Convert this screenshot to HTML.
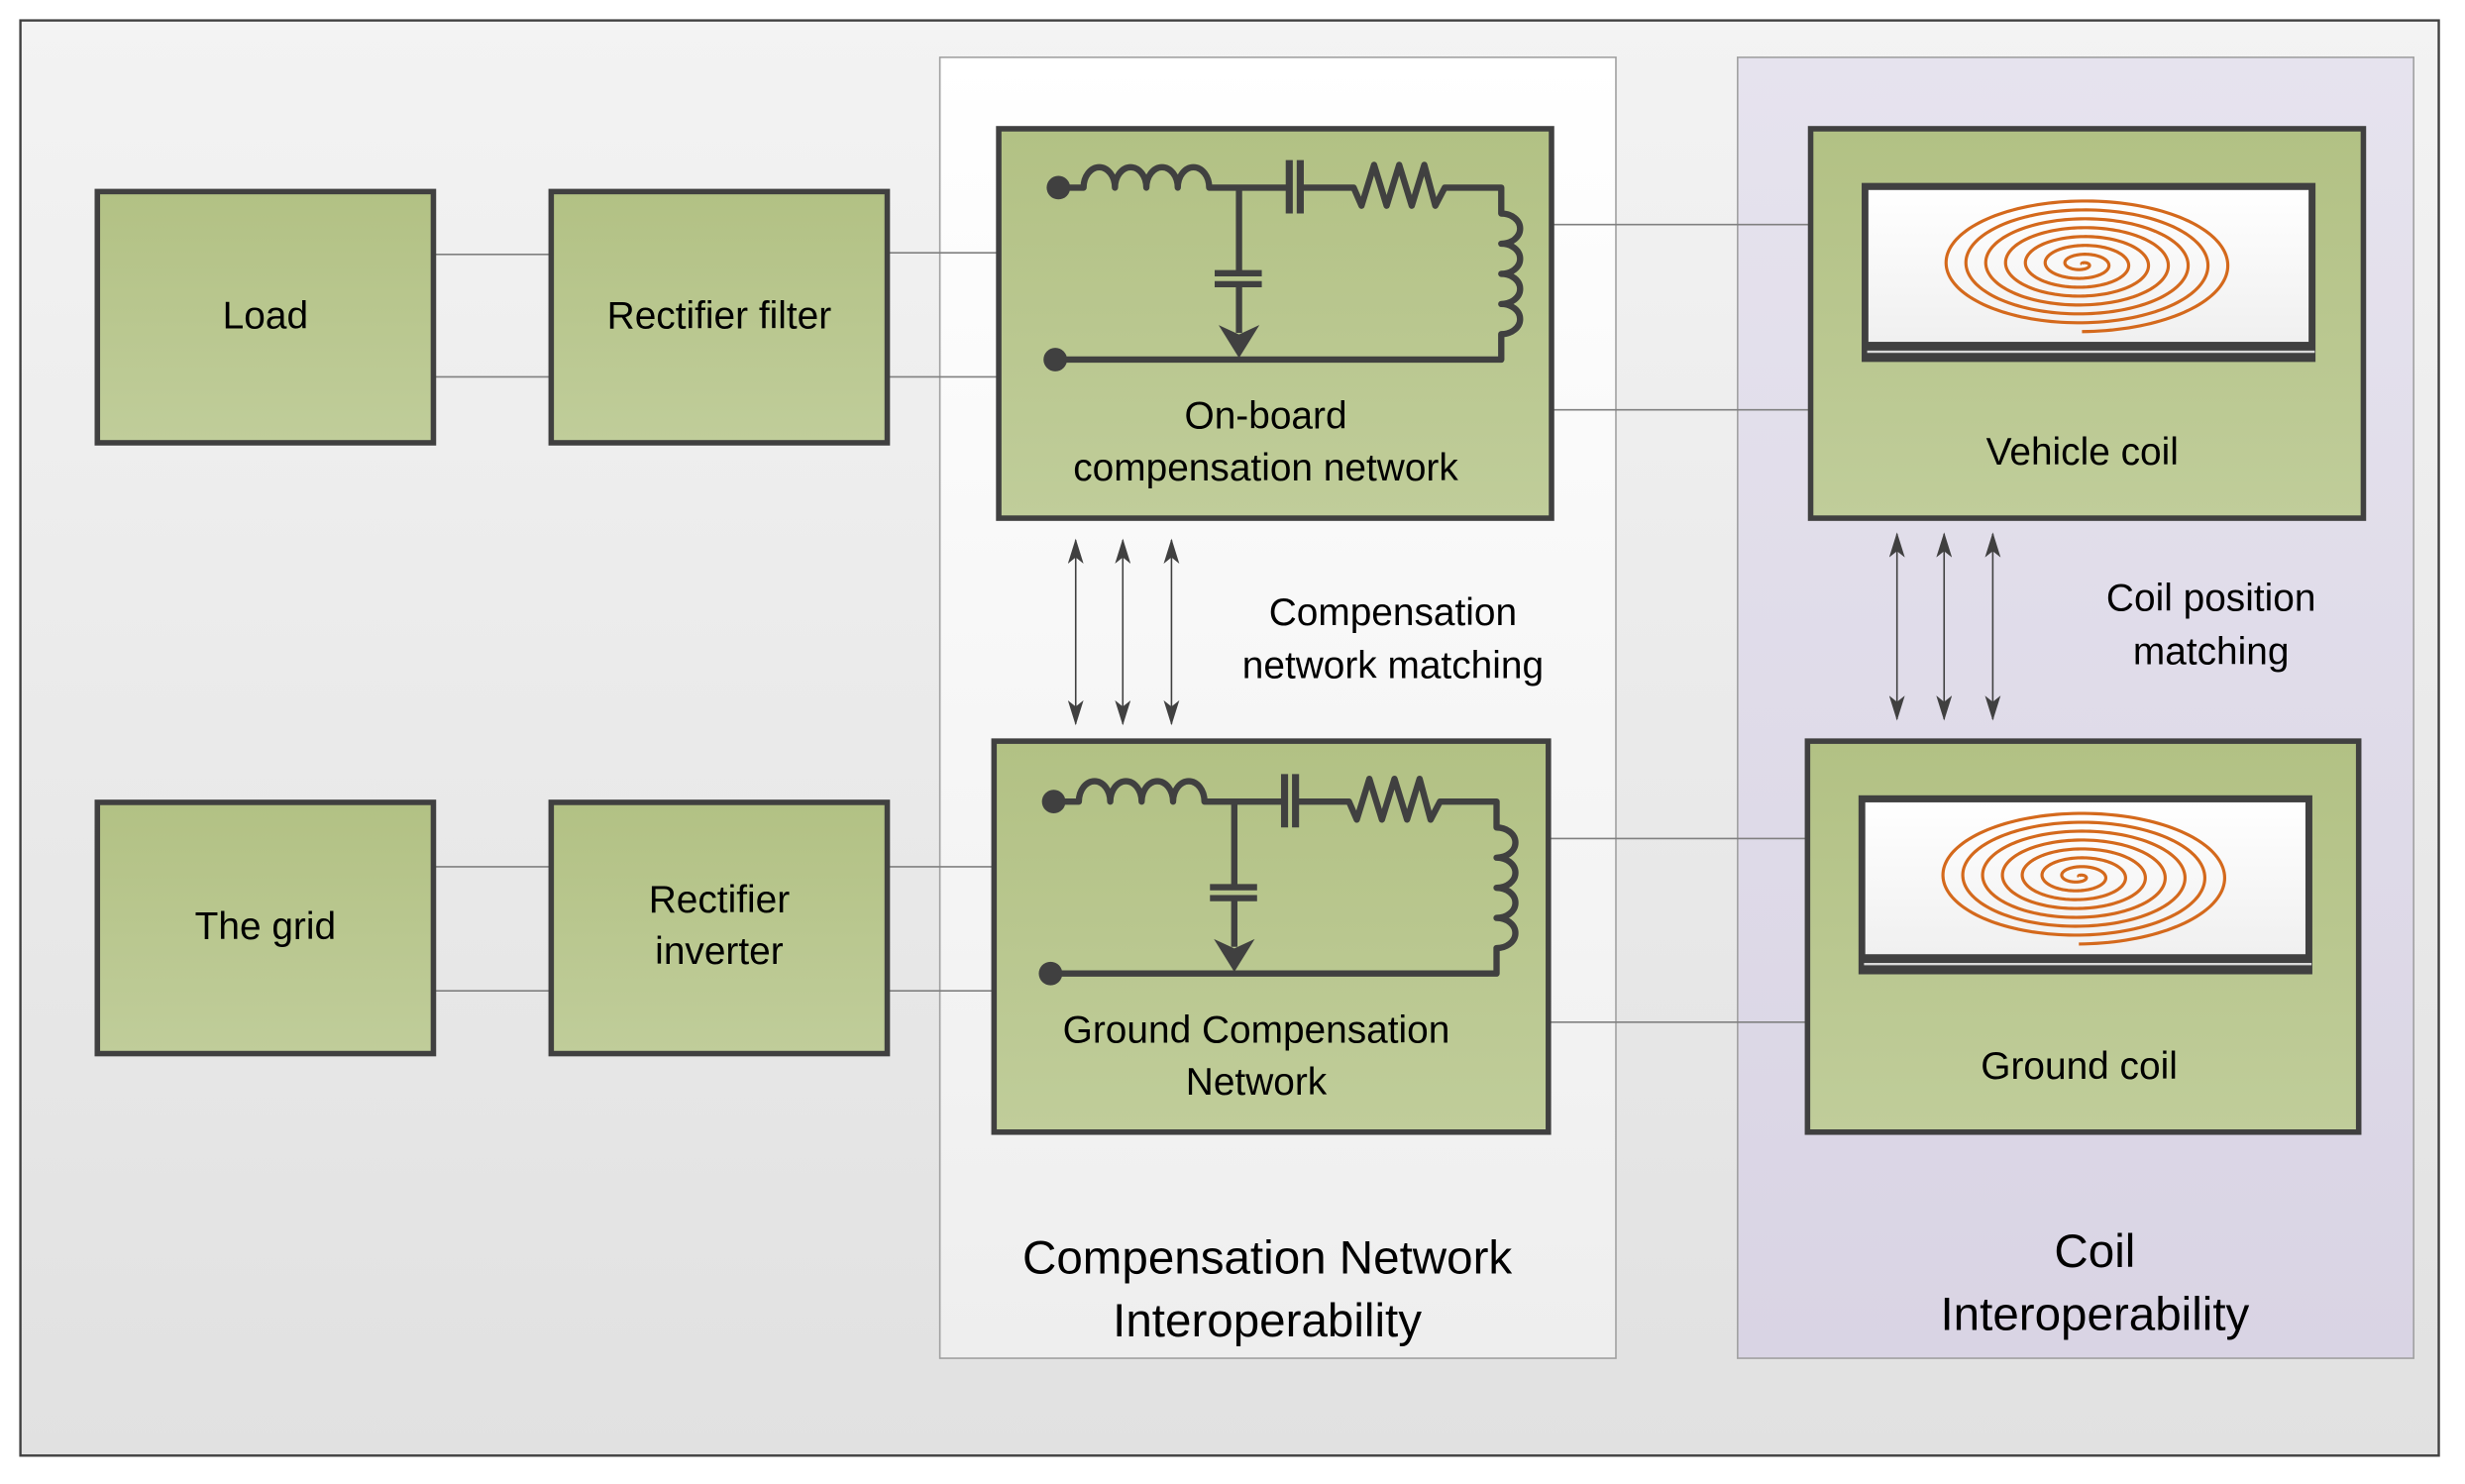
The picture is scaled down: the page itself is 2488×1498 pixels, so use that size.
<!DOCTYPE html>
<html><head><meta charset="utf-8"><style>html,body{margin:0;padding:0;background:#fff}svg{display:block}text{font-family:"Liberation Sans",sans-serif;fill:#000}</style></head>
<body>
<svg width="2488" height="1498" viewBox="0 0 1569.7 945.1" preserveAspectRatio="none" xmlns="http://www.w3.org/2000/svg">
<defs>
<linearGradient id="bg" x1="0" y1="0" x2="0" y2="1"><stop offset="0" stop-color="#f3f3f3"/><stop offset="1" stop-color="#e1e1e1"/></linearGradient>
<linearGradient id="wp" x1="0" y1="0" x2="0" y2="1"><stop offset="0" stop-color="#ffffff"/><stop offset="1" stop-color="#eeeeee"/></linearGradient>
<linearGradient id="pp" x1="0" y1="0" x2="0" y2="1"><stop offset="0" stop-color="#e6e3ee"/><stop offset="1" stop-color="#d9d4e4"/></linearGradient>
<linearGradient id="gr" x1="0" y1="0" x2="0" y2="1"><stop offset="0" stop-color="#b2c184"/><stop offset="1" stop-color="#c0cd9a"/></linearGradient>
<linearGradient id="wh" x1="0" y1="0" x2="0" y2="1"><stop offset="0" stop-color="#ffffff"/><stop offset="1" stop-color="#f0f0f0"/></linearGradient>
<marker id="ah" viewBox="0 0 16 10" refX="15" refY="5" markerWidth="16" markerHeight="10" markerUnits="userSpaceOnUse" orient="auto-start-reverse"><path d="M0,0 L16,5 L0,10 L4,5 Z" fill="#404040"/></marker>
<g id="circ" fill="none" stroke="#404040" stroke-width="4" stroke-linejoin="round">
<circle cx="674" cy="119.5" r="7.5" fill="#404040" stroke="none"/>
<circle cx="672" cy="229" r="7.5" fill="#404040" stroke="none"/>
<path d="M674,119.5 H690 a10,13 0 0 1 20,0 a10,13 0 0 1 20,0 a10,13 0 0 1 20,0 a10,13 0 0 1 20,0 H821"/>
<path d="M821,102 V136 M828,102 V136" stroke-width="4.5"/>
<path d="M828,119.5 H862 L867,131 L875,105 L883,131 L891,105 L899,131 L907,105 L914,131 L920,119.5 H956 V136 a12,9.6 0 0 1 0,19.2 a12,9.6 0 0 1 0,19.2 a12,9.6 0 0 1 0,19.2 a12,9.6 0 0 1 0,19.2 V229 H672"/>
<path d="M789,119.5 V173 M773.5,174 H803.5 M773.5,181 H803.5 M789,181 V212"/>
<path d="M776,207 L789,228 L802,207 L789,213 Z" fill="#404040" stroke="none"/>
</g>
<g id="coil">
<rect x="1185.5" y="116.5" width="289" height="114" fill="#404040"/>
<rect x="1189.8" y="121" width="280.3" height="96.7" fill="url(#wh)"/>
<line x1="1189" y1="224" x2="1474" y2="224" stroke="#d8d8d8" stroke-width="1.5"/>
<path class="sp" fill="none" stroke="#d4691c" stroke-width="2"/>
</g>
</defs>
<rect x="13" y="13" width="1540" height="914" fill="url(#bg)" stroke="#404040" stroke-width="1.5"/>
<rect x="598.5" y="36.5" width="430.5" height="828.5" fill="url(#wp)" stroke="#a0a0a0" stroke-width="1"/>
<rect x="1106.5" y="36.5" width="430.5" height="828.5" fill="url(#pp)" stroke="#a0a0a0" stroke-width="1"/>
<g stroke="#808080" stroke-width="1">
<line x1="276" y1="162" x2="351" y2="162"/><line x1="276" y1="240" x2="351" y2="240"/>
<line x1="565" y1="161" x2="636" y2="161"/><line x1="565" y1="240" x2="636" y2="240"/>
<line x1="276" y1="552" x2="351" y2="552"/><line x1="276" y1="631" x2="351" y2="631"/>
<line x1="565" y1="552" x2="633" y2="552"/><line x1="565" y1="631" x2="633" y2="631"/>
<line x1="988" y1="143" x2="1153" y2="143"/><line x1="988" y1="261" x2="1153" y2="261"/>
<line x1="986" y1="534" x2="1151" y2="534"/><line x1="986" y1="651" x2="1151" y2="651"/>
</g>
<g fill="url(#gr)" stroke="#404040" stroke-width="3.5">
<rect x="62" y="122" width="214" height="160"/><rect x="351" y="122" width="214" height="160"/>
<rect x="62" y="511" width="214" height="160"/><rect x="351" y="511" width="214" height="160"/>
<rect x="636" y="82" width="352" height="248"/><rect x="633" y="472" width="353" height="249"/>
<rect x="1153" y="82" width="352" height="248"/><rect x="1151" y="472" width="351" height="249"/>
</g>
<use href="#circ"/>
<use href="#circ" transform="translate(-3,391)"/>
<use href="#coil"/>
<use href="#coil" transform="translate(-2,390)"/>
<g stroke="#404040" stroke-width="1" marker-start="url(#ah)" marker-end="url(#ah)">
<line x1="685" y1="344" x2="685" y2="461"/><line x1="715" y1="344" x2="715" y2="461"/><line x1="746" y1="344" x2="746" y2="461"/>
<line x1="1208" y1="340" x2="1208" y2="458"/><line x1="1238" y1="340" x2="1238" y2="458"/><line x1="1269" y1="340" x2="1269" y2="458"/>
</g>
<g font-size="24.5" text-anchor="middle">
<text x="169" y="209">Load</text>
<text x="458" y="209">Rectifier filter</text>
<text x="169" y="598">The grid</text>
<text x="458" y="581">Rectifier</text><text x="458" y="614">inverter</text>
<text x="806" y="273">On-board</text><text x="806" y="306">compensation network</text>
<text x="800" y="664">Ground Compensation</text><text x="800" y="697">Network</text>
<text x="1326" y="296">Vehicle coil</text>
<text x="1324" y="687">Ground coil</text>
<text x="887" y="398">Compensation</text><text x="887" y="432">network matching</text>
<text x="1408" y="389">Coil position</text><text x="1408" y="423">matching</text>
</g>
<g font-size="30" text-anchor="middle">
<text x="807" y="811">Compensation Network</text><text x="807" y="851">Interoperability</text>
<text x="1334" y="807">Coil</text><text x="1334" y="847">Interoperability</text>
</g>
</svg>
<script>
(function(){var cx=1325.8,cy=168.2,RX=96,RY=43,T=7.6,N=1200,pts=[];
var fe=Math.PI/2,f0=fe-T*2*Math.PI;
for(var i=0;i<=N;i++){var t=i/N,f=f0+(fe-f0)*t;pts.push((cx+RX*t*Math.cos(f)).toFixed(2)+","+(cy+RY*t*Math.sin(f)).toFixed(2));}
var d="M"+pts.join(" L");
document.querySelectorAll(".sp").forEach(function(p){p.setAttribute("d",d);});})();
</script>
</body></html>
